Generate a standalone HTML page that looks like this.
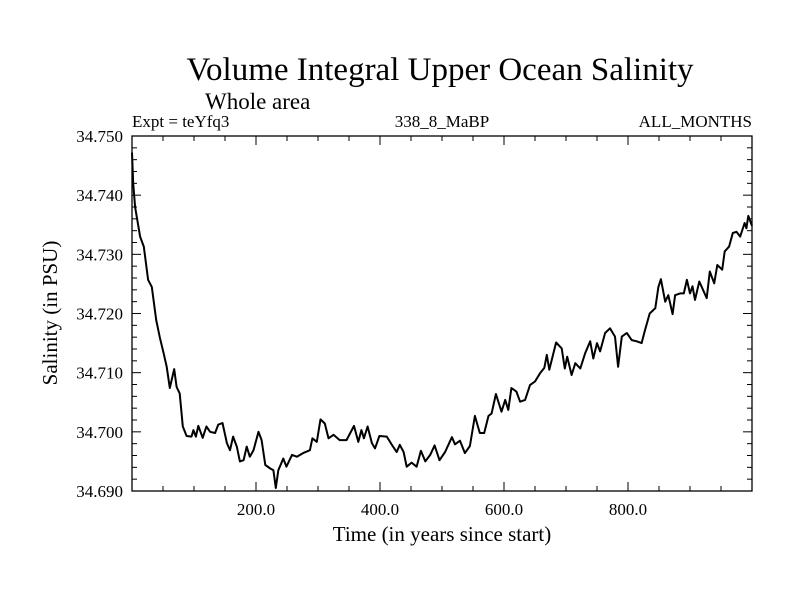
<!DOCTYPE html>
<html><head><meta charset="utf-8"><style>
body{margin:0;background:#fff}
svg text{font-family:"Liberation Serif",serif;fill:#000}
</style></head><body>
<svg id="c" width="800" height="600">
<text x="440" y="80" font-size="33" text-anchor="middle">Volume Integral Upper Ocean Salinity</text>
<text x="205" y="109" font-size="23">Whole area</text>
<text x="132" y="127" font-size="17">Expt = teYfq3</text>
<text x="442" y="127" font-size="17" text-anchor="middle">338_8_MaBP</text>
<text x="752" y="127" font-size="17" text-anchor="end">ALL_MONTHS</text>
<text x="442" y="541" font-size="21" text-anchor="middle">Time (in years since start)</text>
<text transform="translate(57,313) rotate(-90)" font-size="21" text-anchor="middle">Salinity (in PSU)</text>
<g id="ax"></g>
<path id="line" fill="none" stroke="#000" stroke-width="2" stroke-linejoin="round"/>
<rect x="132" y="136" width="620" height="355" fill="none" stroke="#000" stroke-width="1.3"/>
</svg>
<script>
const years=[0,2,5,13,19,26,32,39,45,51,56,61,68,72,77,82,88,96,99,103,107,114,120,126,134,139,146,153,158,163,169,174,180,185,190,196,204,209,215,223,228,232,236,244,249,258,266,276,287,291,298,304,311,317,325,335,346,358,365,370,374,380,387,392,399,411,421,427,432,438,443,451,459,466,473,481,488,496,505,516,521,529,537,545,553,561,568,575,580,587,596,602,607,612,620,626,634,642,650,658,665,669,673,684,693,698,702,709,715,723,731,739,744,750,755,763,771,779,784,790,798,806,814,822,827,835,844,849,853,860,865,872,876,884,890,895,900,904,908,915,921,927,932,939,944,952,956,963,969,975,981,988,991,994,1000];
const salinity=[34.7472,34.7420,34.7380,34.7330,34.7313,34.7257,34.7245,34.7189,34.7159,34.7133,34.7110,34.7074,34.7106,34.7076,34.7065,34.7009,34.6993,34.6992,34.7003,34.6992,34.7010,34.6990,34.7009,34.7000,34.6998,34.7012,34.7015,34.6981,34.6969,34.6992,34.6975,34.6950,34.6952,34.6975,34.6958,34.6969,34.7000,34.6986,34.6944,34.6938,34.6935,34.6905,34.6935,34.6955,34.6941,34.6961,34.6958,34.6964,34.6969,34.6989,34.6983,34.7021,34.7014,34.6989,34.6995,34.6986,34.6986,34.7010,34.6983,34.7003,34.6989,34.7009,34.6981,34.6972,34.6993,34.6992,34.6975,34.6966,34.6978,34.6966,34.6941,34.6948,34.6941,34.6968,34.6950,34.6961,34.6977,34.6952,34.6966,34.6991,34.6979,34.6985,34.6964,34.6976,34.7027,34.6998,34.6998,34.7027,34.7031,34.7064,34.7034,34.7054,34.7037,34.7074,34.7068,34.7051,34.7054,34.7079,34.7085,34.7099,34.7108,34.7130,34.7105,34.7151,34.7141,34.7107,34.7127,34.7096,34.7116,34.7107,34.7133,34.7153,34.7124,34.7150,34.7136,34.7167,34.7175,34.7161,34.7110,34.7161,34.7167,34.7155,34.7153,34.7150,34.7170,34.7200,34.7209,34.7245,34.7258,34.7220,34.7231,34.7199,34.7231,34.7234,34.7234,34.7257,34.7234,34.7246,34.7223,34.7254,34.7240,34.7226,34.7271,34.7251,34.7282,34.7274,34.7305,34.7313,34.7336,34.7338,34.7330,34.7353,34.7344,34.7365,34.7348];
const xTickLabels=["200.0","400.0","600.0","800.0"];
const xTickValues=[200,400,600,800];
const yTickLabels=["34.690","34.700","34.710","34.720","34.730","34.740","34.750"];
const yTickValues=[34.69,34.70,34.71,34.72,34.73,34.74,34.75];
const L=132,R=752,T=136,B=491,X0=0,X1=1000,Y0=34.69,Y1=34.75;
const sx=v=>L+(v-X0)/(X1-X0)*(R-L);
const sy=v=>B-(v-Y0)/(Y1-Y0)*(B-T);
const NS="http://www.w3.org/2000/svg";
const ax=document.getElementById('ax');
function ln(x1,y1,x2,y2,name){const e=document.createElementNS(NS,'line');
e.setAttribute('x1',x1);e.setAttribute('y1',y1);e.setAttribute('x2',x2);e.setAttribute('y2',y2);
e.setAttribute('stroke','#000');e.setAttribute('stroke-width','1');


ax.appendChild(e);}
function tx(x,y,s,anchor,name){const e=document.createElementNS(NS,'text');
e.setAttribute('x',x);e.setAttribute('y',y);e.setAttribute('font-size','17');e.setAttribute('text-anchor',anchor);e.textContent=s;


ax.appendChild(e);}
for(let v=50;v<1000;v+=50){const x=sx(v),len=(v%200===0)?9:5;ln(x,B,x,B-len,'x-tick');ln(x,T,x,T+len,'x-tick-top');}
for(let i=1;i<30;i++){const v=Y0+i*0.002,y=sy(v),len=(i%5===0)?9:5;ln(L,y,L+len,y,'y-tick');ln(R,y,R-len,y,'y-tick-right');}
xTickValues.forEach((v,i)=>tx(sx(v),B+24,xTickLabels[i],'middle','x-tick-label'));
yTickValues.forEach((v,i)=>tx(L-9,sy(v)+6,yTickLabels[i],'end','y-tick-label'));
document.getElementById('line').setAttribute('d',years.map((y,i)=>(i?'L':'M')+sx(y).toFixed(1)+','+sy(salinity[i]).toFixed(1)).join(''));
</script>
</body></html>
